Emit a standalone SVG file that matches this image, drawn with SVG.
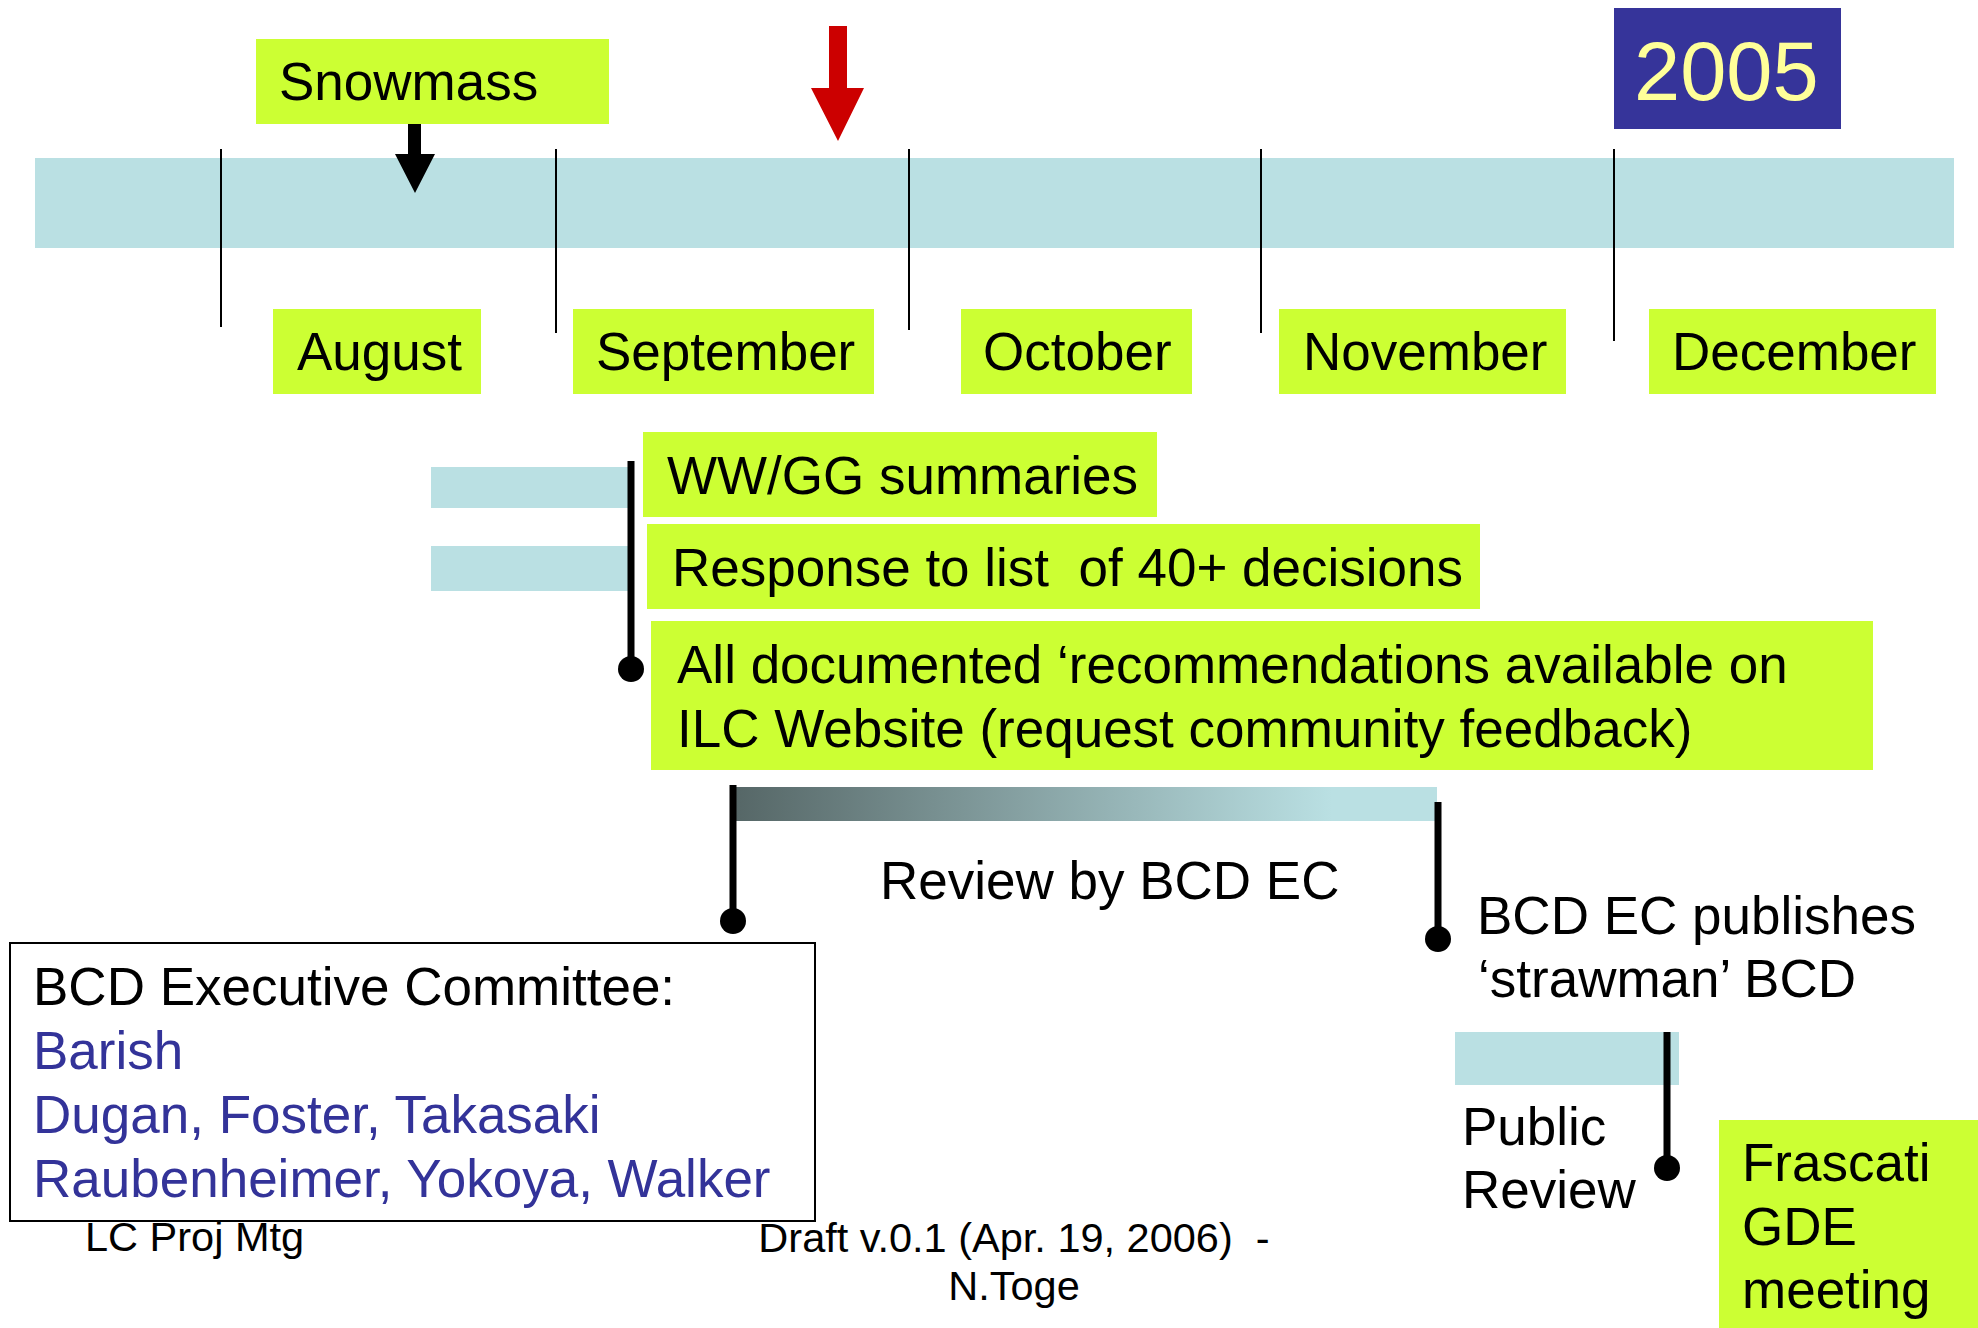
<svg xmlns="http://www.w3.org/2000/svg" width="1978" height="1328" viewBox="0 0 1978 1328">
<style>
text{font-family:"Liberation Sans",Arial,sans-serif;font-size:53px;fill:#000}
.g{fill:#CCFF33}
.lb{fill:#BAE0E3}
.thin{stroke:#000;stroke-width:2;fill:none}
.thick{stroke:#000;stroke-width:7;fill:none}
.dot{fill:#000}
.blue{fill:#333399}
.foot{font-size:41.5px}
</style>
<defs>
<linearGradient id="grad" x1="0" y1="0" x2="1" y2="0">
<stop offset="0" stop-color="#566767"/>
<stop offset="0.85" stop-color="#BAE0E3"/>
<stop offset="1" stop-color="#BAE0E3"/>
</linearGradient>
</defs>
<rect width="1978" height="1328" fill="#fff"/>

<g id="timeline"><rect class="lb" x="35" y="158" width="1919" height="90"/></g>

<g id="footer">
<text class="foot" x="85" y="1251">LC Proj Mtg</text>
<text class="foot" x="1014" y="1252" text-anchor="middle" xml:space="preserve">Draft v.0.1 (Apr. 19, 2006)  -</text>
<text class="foot" x="1014" y="1300" text-anchor="middle">N.Toge</text>
</g>

<g id="connectors">
<line class="thin" x1="221" y1="149" x2="221" y2="327"/>
<line class="thin" x1="556" y1="149" x2="556" y2="333"/>
<line class="thin" x1="909" y1="149" x2="909" y2="330"/>
<line class="thin" x1="1261" y1="149" x2="1261" y2="333"/>
<line class="thin" x1="1614" y1="149" x2="1614" y2="341"/>
<polygon fill="#000" points="408,115 421,115 421,154 435,154 415,193 395,154 408,154"/>
<polygon fill="#CC0000" points="829,26 847,26 847,88 864,88 838,141 811,88 829,88"/>
</g>

<g id="snowmass"><rect class="g" x="256" y="39" width="353" height="85"/><text x="279" y="100">Snowmass</text></g>
<g id="year"><rect fill="#36349A" x="1614" y="8" width="227" height="121"/><text x="1634" y="100" style="font-size:83px;fill:#FFFF99">2005</text></g>

<g id="august"><rect class="g" x="273" y="309" width="208" height="85"/><text x="297" y="370">August</text></g>
<g id="september"><rect class="g" x="573" y="309" width="301" height="85"/><text x="596" y="370">September</text></g>
<g id="october"><rect class="g" x="961" y="309" width="231" height="85"/><text x="983" y="370">October</text></g>
<g id="november"><rect class="g" x="1279" y="309" width="287" height="85"/><text x="1303" y="370">November</text></g>
<g id="december"><rect class="g" x="1649" y="309" width="287" height="85"/><text x="1672" y="370">December</text></g>

<g id="bars">
<rect class="lb" x="431" y="467" width="198" height="41"/>
<rect class="lb" x="431" y="546" width="198" height="45"/>
<rect fill="url(#grad)" x="736" y="787" width="701" height="34"/>
<rect class="lb" x="1455" y="1032" width="224" height="53"/>
</g>

<g id="markers">
<line class="thick" x1="631" y1="461" x2="631" y2="669"/><circle class="dot" cx="631" cy="669" r="13"/>
<line class="thick" x1="733" y1="785" x2="733" y2="921"/><circle class="dot" cx="733" cy="921" r="13"/>
<line class="thick" x1="1438" y1="802" x2="1438" y2="939"/><circle class="dot" cx="1438" cy="939" r="13"/>
<line class="thick" x1="1667" y1="1032" x2="1667" y2="1168"/><circle class="dot" cx="1667" cy="1168" r="13"/>
</g>

<g id="wwgg"><rect class="g" x="643" y="432" width="514" height="85"/><text x="667" y="494">WW/GG summaries</text></g>
<g id="response"><rect class="g" x="647" y="524" width="833" height="85"/><text x="672" y="586" xml:space="preserve">Response to list  of 40+ decisions</text></g>
<g id="documented"><rect class="g" x="651" y="621" width="1222" height="149"/><text x="677" y="683">All documented ‘recommendations available on</text><text x="677" y="747">ILC Website (request community feedback)</text></g>

<g id="review"><text x="880" y="899">Review by BCD EC</text></g>
<g id="publishes"><text x="1477" y="934">BCD EC publishes</text><text x="1478" y="997">‘strawman’ BCD</text></g>
<g id="public"><text x="1462" y="1145">Public</text><text x="1462" y="1208">Review</text></g>
<g id="frascati"><rect class="g" x="1719" y="1120" width="259" height="208"/><text x="1742" y="1181">Frascati</text><text x="1742" y="1245">GDE</text><text x="1742" y="1308">meeting</text></g>

<g id="committee">
<rect x="10" y="943" width="805" height="278" fill="#fff" stroke="#000" stroke-width="2"/>
<text x="33" y="1005">BCD Executive Committee:</text>
<text class="blue" x="33" y="1069">Barish</text>
<text class="blue" x="33" y="1133">Dugan, Foster, Takasaki</text>
<text class="blue" x="33" y="1197">Raubenheimer, Yokoya, Walker</text>
</g>
</svg>
